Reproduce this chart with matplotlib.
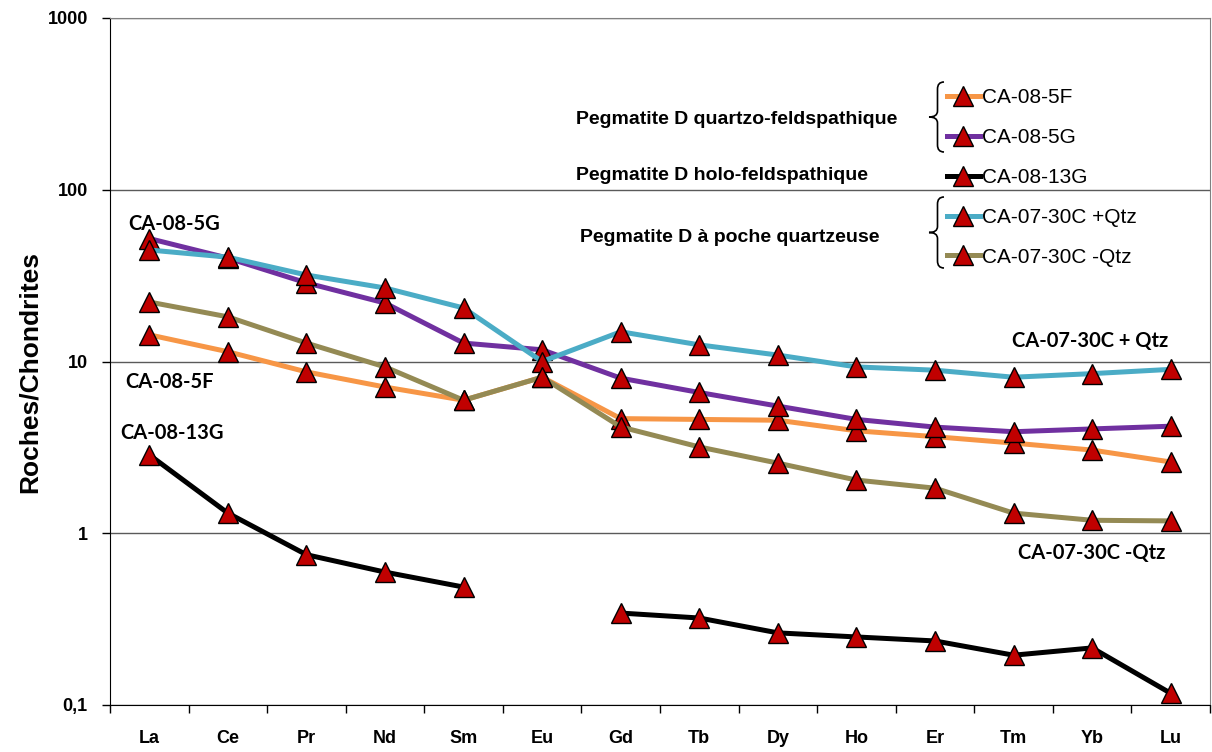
import numpy as np
import matplotlib.pyplot as plt
from matplotlib.path import Path
from matplotlib.patches import PathPatch

# Spectres de terres rares normalisés aux chondrites
elements = ['La', 'Ce', 'Pr', 'Nd', 'Sm', 'Eu', 'Gd', 'Tb', 'Dy', 'Ho', 'Er', 'Tm', 'Yb', 'Lu']

ca_08_5f = [14.3, 11.4, 8.7, 7.1, 5.95, 8.1, 4.65, 4.6, 4.55, 3.95, 3.65, 3.35, 3.05, 2.6]
ca_08_5g = [52, 40, 28.7, 21.9, 12.8, 11.7, 8.0, 6.6, 5.5, 4.6, 4.15, 3.9, 4.05, 4.2]
ca_08_13g = [2.86, 1.31, 0.75, 0.594, 0.486, np.nan, 0.343, 0.321, 0.263, 0.249, 0.236, 0.195, 0.215, 0.117]
ca_07_30c_plus = [44.6, 40.5, 31.9, 26.8, 20.5, 10.0, 14.9, 12.5, 10.9, 9.3, 8.9, 8.1, 8.5, 9.0]
ca_07_30c_minus = [22.2, 18.2, 12.8, 9.3, 5.95, 8.1, 4.16, 3.18, 2.56, 2.04, 1.83, 1.31, 1.19, 1.18]

series = [
    ('CA-08-5F', ca_08_5f, '#F79646'),
    ('CA-08-5G', ca_08_5g, '#7030A0'),
    ('CA-08-13G', ca_08_13g, '#000000'),
    ('CA-07-30C +Qtz', ca_07_30c_plus, '#4BACC6'),
    ('CA-07-30C -Qtz', ca_07_30c_minus, '#948A54'),
]

W, H = 1212, 752
fig = plt.figure(figsize=(W / 100, H / 100), dpi=100)
ax = fig.add_axes([110 / W, 1 - 705 / H, 1100 / W, 687 / H])

x = np.arange(len(elements))
handles = []
for name, vals, col in series:
    h, = ax.plot(x, vals, color=col, lw=3.6, marker='^', ms=15,
                 mfc='#C00000', mec='black', mew=1.0, label=name)
    handles.append(h)

ax.set_yscale('log')
ax.set_ylim(0.1, 1000)
ax.set_xlim(-0.5, len(elements) - 0.5)

ax.set_yticks([0.1, 1, 10, 100, 1000])
ax.set_yticklabels(['0,1', '1', '10', '100', '1000'])
ax.yaxis.set_minor_locator(plt.NullLocator())
ax.grid(axis='y', which='major', color='#5a5a5a', lw=1.0)
ax.set_axisbelow(True)

ax.set_xticks(x)
ax.set_xticklabels(elements)
ax.set_xticks(np.arange(len(elements) + 1) - 0.5, minor=True)
ax.tick_params(axis='x', which='major', length=0, pad=18)
ax.tick_params(axis='x', which='minor', length=6, direction='out', width=1)
ax.tick_params(axis='y', which='major', length=6, direction='out', width=1, pad=10)

for lab in ax.get_xticklabels() + ax.get_yticklabels():
    lab.set_family('Liberation Sans')
    lab.set_fontweight('bold')
    lab.set_fontsize(13)

ax.set_ylabel('Roches/Chondrites', family='Liberation Sans', fontweight='bold', fontsize=19)
ax.yaxis.set_label_coords(-0.062, 0.485)

for s in ['left', 'bottom']:
    ax.spines[s].set_color('black')
for s in ['top', 'right']:
    ax.spines[s].set_color('#808080')

# étiquettes dans le graphique
ann = dict(family='Lato', fontweight='bold', fontsize=14.5, color='black')
ax.text(-0.27, 63, 'CA-08-5G', ha='left', va='center', **ann)
ax.text(-0.3, 7.6, 'CA-08-5F', ha='left', va='center', **ann)
ax.text(-0.37, 3.84, 'CA-08-13G', ha='left', va='center', **ann)
ax.text(12.97, 13.2, 'CA-07-30C + Qtz', ha='right', va='center', **ann)
ax.text(12.93, 0.77, 'CA-07-30C -Qtz', ha='right', va='center', **ann)

# légende
leg = ax.legend(handles=handles, loc='upper left', bbox_to_anchor=(829 / 1100, 1 - 62 / 687),
                frameon=False, handlelength=1.55, handletextpad=0.1, labelspacing=1.0,
                prop={'family': 'Liberation Sans', 'size': 15}, borderaxespad=0)

grp = dict(family='Liberation Sans', fontweight='bold', fontsize=14, ha='center', va='center')
fig.text(737 / W, 1 - 120 / H, 'Pegmatite D quartzo-feldspathique', **grp)
fig.text(722 / W, 1 - 176 / H, 'Pegmatite D holo-feldspathique', **grp)
fig.text(730 / W, 1 - 238 / H, 'Pegmatite D à poche quartzeuse', **grp)


def brace(y0, y1, xl=929, xr=944):
    ym = (y0 + y1) / 2
    xm = (xl + xr) / 2 + 1
    pts = [(xr, y0), (xm, y0), (xm, y0 + 7), (xm, y0 + 7), (xm, ym - 6),
           (xm, ym - 6), (xm, ym), (xl, ym), (xm, ym), (xm, ym + 6),
           (xm, ym + 6), (xm, y1 - 7), (xm, y1 - 7), (xm, y1), (xr, y1)]
    codes = [Path.MOVETO, Path.CURVE3, Path.CURVE3, Path.LINETO, Path.LINETO,
             Path.LINETO, Path.CURVE3, Path.CURVE3, Path.CURVE3, Path.CURVE3,
             Path.LINETO, Path.LINETO, Path.LINETO, Path.CURVE3, Path.CURVE3]
    pts = [(px / W, 1 - py / H) for px, py in pts]
    fig.patches.append(PathPatch(Path(pts, codes), transform=fig.transFigure,
                                 fill=False, lw=1.2, color='black'))


brace(82, 152)
brace(197, 268)

fig.savefig('out.png', dpi=100)
